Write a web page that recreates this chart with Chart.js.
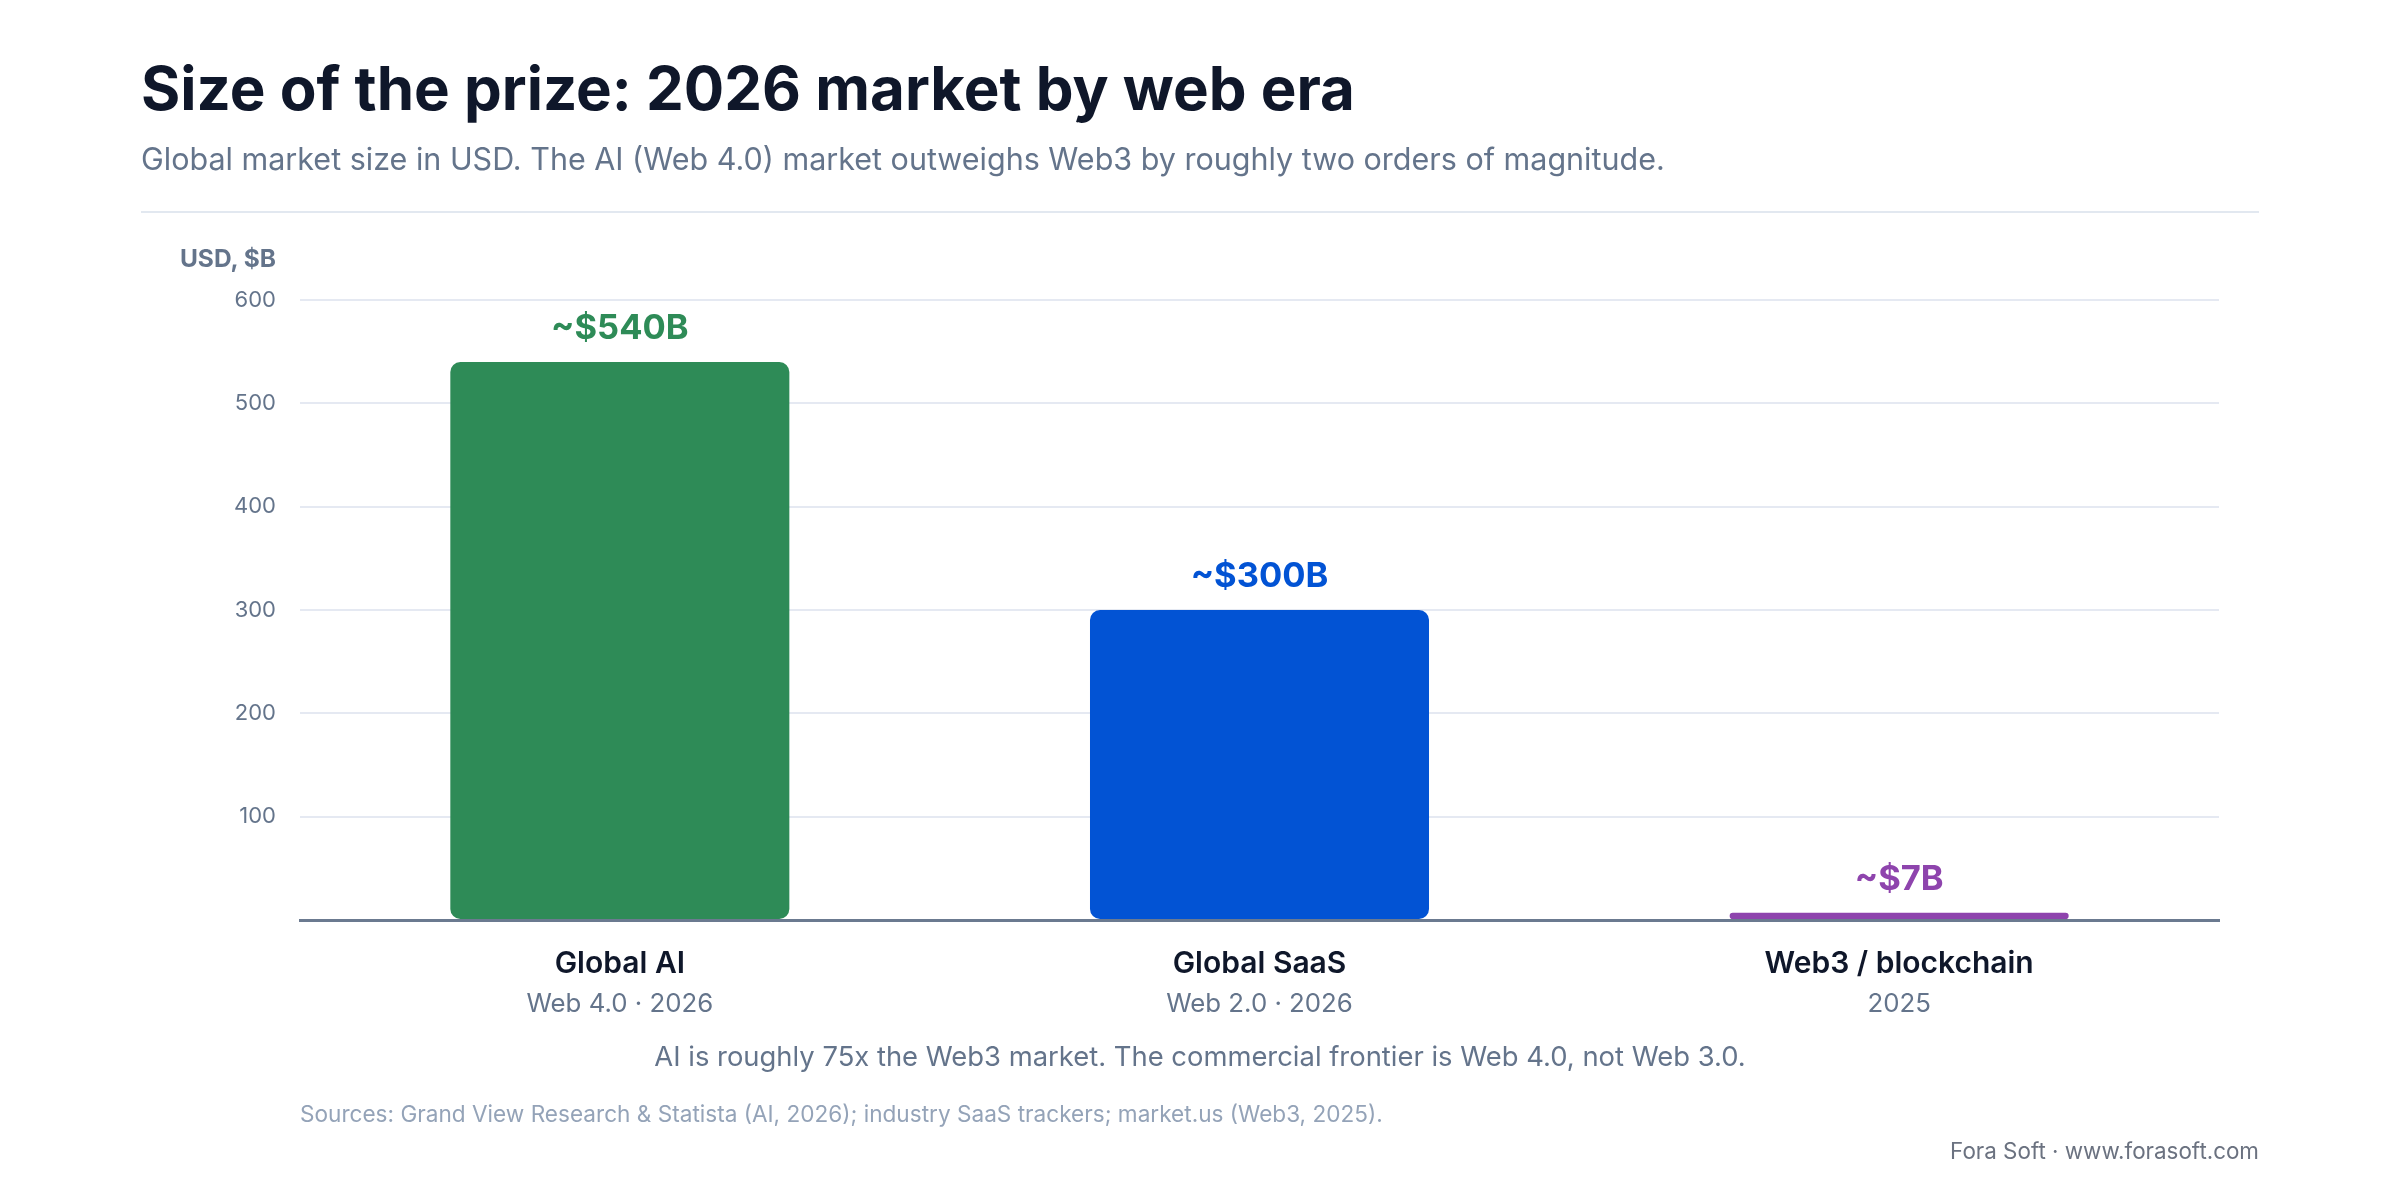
<!DOCTYPE html>
<html>
<head>
<meta charset="utf-8">
<title>Size of the prize: 2026 market by web era</title>
<script src="https://cdn.jsdelivr.net/npm/chart.js@4.4.1/dist/chart.umd.min.js"></script>
<style>
  html, body { margin: 0; padding: 0; background: #ffffff; }
  body { width: 2400px; height: 1200px; position: relative; overflow: hidden; font-family: Inter, "Noto Sans", sans-serif; }
  #chart { position: absolute; left: 0; top: 0; }
  .txt { position: absolute; line-height: 1; white-space: nowrap; z-index: 2; }
  #title { left: 141px; top: 58px; font-size: 60px; font-weight: 700; color: #0f172a; }
  #subtitle { left: 141px; top: 144px; font-size: 30.5px; color: #64748b; }
  #rule { position: absolute; left: 141px; top: 211px; width: 2118px; height: 2px; background: #e2e8f0; }
  #unit { right: 2124px; top: 246px; font-size: 24.5px; font-weight: 700; color: #64748b; }
  #note { left: 0; width: 2400px; text-align: center; top: 1043px; font-size: 27.4px; color: #64748b; }
  #sources { left: 300px; top: 1103px; font-size: 22.6px; color: #94a3b8; }
  #brand { right: 141px; top: 1140px; font-size: 22.4px; color: #6b7280; }
</style>
</head>
<body>
<div class="txt" id="title">Size of the prize: 2026 market by web era</div>
<div class="txt" id="subtitle">Global market size in USD. The AI (Web 4.0) market outweighs Web3 by roughly two orders of magnitude.</div>
<div id="rule"></div>
<div class="txt" id="unit">USD, $B</div>
<canvas id="chart" width="2400" height="1200"></canvas>
<div class="txt" id="note">AI is roughly 75x the Web3 market. The commercial frontier is Web 4.0, not Web 3.0.</div>
<div class="txt" id="sources">Sources: Grand View Research &amp; Statista (AI, 2026); industry SaaS trackers; market.us (Web3, 2025).</div>
<div class="txt" id="brand">Fora Soft · www.forasoft.com</div>

<script>
// data
const categories = ['Global AI', 'Global SaaS', 'Web3 / blockchain'];
const subLabels = ['Web 4.0 · 2026', 'Web 2.0 · 2026', '2025'];
const marketSize = [540, 300, 7];
const valueLabels = ['~$540B', '~$300B', '~$7B'];
const yTicks = [0, 100, 200, 300, 400, 500, 600];

const colores = ['#2e8b57', '#0253d4', '#8e44ad'];

// value labels above the bars
const valueLabelPlugin = {
    id: 'valueLabels',
    afterDatasetsDraw(chart) {
        const ctx = chart.ctx;
        const meta = chart.getDatasetMeta(0);
        ctx.save();
        ctx.font = '700 34.5px Inter';
        ctx.textAlign = 'center';
        ctx.textBaseline = 'alphabetic';
        meta.data.forEach((bar, i) => {
            ctx.fillStyle = colores[i];
            ctx.fillText(valueLabels[i], bar.x, bar.y - 23);
        });
        ctx.restore();
    }
};

// two-line category labels under the axis
const categoryLabelPlugin = {
    id: 'categoryLabels',
    afterDraw(chart) {
        const ctx = chart.ctx;
        const x = chart.scales.x;
        const bottom = chart.chartArea.bottom;
        ctx.save();
        ctx.textAlign = 'center';
        ctx.textBaseline = 'alphabetic';
        categories.forEach((cat, i) => {
            const px = x.getPixelForValue(i);
            ctx.font = '600 30px Inter';
            ctx.fillStyle = '#0f172a';
            ctx.fillText(cat, px, bottom + 53);
            ctx.font = '400 25.8px Inter';
            ctx.fillStyle = '#64748b';
            ctx.fillText(subLabels[i], px, bottom + 92);
        });
        ctx.restore();
    }
};

const ctx1 = document.getElementById('chart').getContext('2d');
new Chart(ctx1, {
    type: 'bar',
    data: {
        labels: categories,
        datasets: [{
            label: 'Market size',
            data: marketSize,
            backgroundColor: colores,
            borderRadius: 10,
            borderSkipped: false,
            barPercentage: 0.53,
            categoryPercentage: 1,
        }]
    },
    options: {
        responsive: false,
        animation: false,
        devicePixelRatio: 1,
        layout: {
            padding: { left: 0, right: 181, top: 300, bottom: 280 }
        },
        plugins: {
            legend: { display: false },
            tooltip: { enabled: false },
        },
        scales: {
            x: {
                grid: { display: false },
                border: { display: true, color: '#6b7a90', width: 3 },
                ticks: { display: false },
                afterFit: (scale) => { scale.height = 0; },
            },
            y: {
                min: yTicks[0],
                max: yTicks[yTicks.length - 1],
                afterFit: (scale) => { scale.width = 300; },
                afterBuildTicks: (scale) => {
                    scale.ticks = yTicks.map(v => ({ value: v }));
                },
                border: { display: false },
                grid: {
                    drawTicks: false,
                    lineWidth: 2,
                    color: (c) => (c.tick && c.tick.value === 0) ? 'rgba(0,0,0,0)' : '#e5e9f2',
                },
                ticks: {
                    padding: 24,
                    color: '#64748b',
                    font: { family: 'Inter', size: 22 },
                    callback: (v) => v === 0 ? '' : v,
                },
            },
        },
    },
    plugins: [valueLabelPlugin, categoryLabelPlugin],
});
</script>
</body>
</html>
